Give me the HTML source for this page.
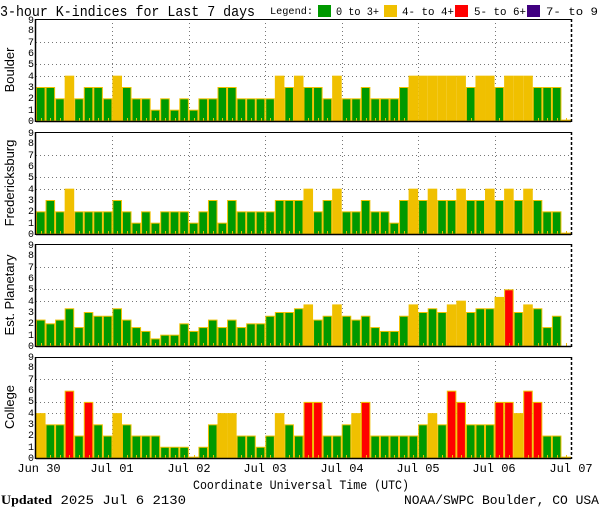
<!DOCTYPE html>
<html><head><meta charset="utf-8"><style>
html,body{margin:0;padding:0;background:#fff;}
svg{display:block;}
text{font-family:"Liberation Mono","DejaVu Sans Mono",monospace;fill:#000;}
.d{font-size:10px;text-anchor:end;}
.yl{font-size:13px;text-anchor:middle;font-family:"Liberation Sans",sans-serif;}
</style></head><body>
<svg id="s" width="600" height="510" viewBox="0 0 600 510" xmlns="http://www.w3.org/2000/svg">
<rect width="600" height="510" fill="#fff"/>
<text x="0" y="16" font-size="15" textLength="255" lengthAdjust="spacingAndGlyphs">3-hour K-indices for Last 7 days</text>
<text x="270" y="14" font-size="10" textLength="43" lengthAdjust="spacingAndGlyphs">Legend:</text>
<rect x="318" y="5" width="13" height="12" fill="#009900"/>
<text x="336" y="15" font-size="11" textLength="43" lengthAdjust="spacingAndGlyphs">0 to 3+</text>
<rect x="384" y="5" width="13" height="12" fill="#f0c000"/>
<text x="402" y="15" font-size="11" textLength="52" lengthAdjust="spacingAndGlyphs">4- to 4+</text>
<rect x="455" y="5" width="13" height="12" fill="#ff0000"/>
<text x="474" y="15" font-size="11" textLength="52" lengthAdjust="spacingAndGlyphs">5- to 6+</text>
<rect x="527" y="5" width="13" height="12" fill="#400080"/>
<text x="546" y="15" font-size="11" textLength="52" lengthAdjust="spacingAndGlyphs">7- to 9</text>

<g id="plots"></g>

<text class="yl" transform="translate(14,70) rotate(-90)">Boulder</text>
<text class="yl" transform="translate(14,183) rotate(-90)">Fredericksburg</text>
<text class="yl" transform="translate(14,295) rotate(-90)">Est. Planetary</text>
<text class="yl" transform="translate(14,407) rotate(-90)">College</text>

<g class="d">
<text x="34" y="124">0</text><text x="34" y="113">1</text><text x="34" y="101">2</text><text x="34" y="90">3</text><text x="34" y="79">4</text><text x="34" y="67">5</text><text x="34" y="56">6</text><text x="34" y="45">7</text><text x="34" y="33">8</text><text x="34" y="23">9</text>
<text x="34" y="237">0</text><text x="34" y="226">1</text><text x="34" y="214">2</text><text x="34" y="203">3</text><text x="34" y="192">4</text><text x="34" y="180">5</text><text x="34" y="169">6</text><text x="34" y="158">7</text><text x="34" y="146">8</text><text x="34" y="136">9</text>
<text x="34" y="349">0</text><text x="34" y="338">1</text><text x="34" y="326">2</text><text x="34" y="315">3</text><text x="34" y="304">4</text><text x="34" y="292">5</text><text x="34" y="281">6</text><text x="34" y="270">7</text><text x="34" y="258">8</text><text x="34" y="248">9</text>
<text x="34" y="461">0</text><text x="34" y="450">1</text><text x="34" y="438">2</text><text x="34" y="427">3</text><text x="34" y="416">4</text><text x="34" y="404">5</text><text x="34" y="393">6</text><text x="34" y="382">7</text><text x="34" y="370">8</text><text x="34" y="360">9</text>
</g>

<g font-size="12" text-anchor="middle">
<text x="39" y="472">Jun 30</text>
<text x="112" y="472">Jul 01</text>
<text x="189" y="472">Jul 02</text>
<text x="265" y="472">Jul 03</text>
<text x="342" y="472">Jul 04</text>
<text x="418" y="472">Jul 05</text>
<text x="494" y="472">Jul 06</text>
<text x="571" y="472">Jul 07</text>
</g>
<text x="193" y="489" font-size="13" textLength="216" lengthAdjust="spacingAndGlyphs">Coordinate Universal Time (UTC)</text>
<text x="1" y="504" font-size="13" textLength="185" lengthAdjust="spacingAndGlyphs"><tspan font-weight="bold" font-family="Liberation Serif,serif">Updated</tspan> 2025 Jul  6 2130</text>
<text x="404" y="504" font-size="13" textLength="195" lengthAdjust="spacingAndGlyphs">NOAA/SWPC Boulder, CO USA</text>
</svg>
<script>
var P=[
 {t:19,b:121,v:[3,3,2,4,2,3,3,2, 4,3,2,2,1,2,1,2, 1,2,2,3,3,2,2,2, 2,4,3,4,3,3,2,4, 2,2,3,2,2,2,3,4, 4,4,4,4,4,3,4,4, 3,4,4,4,3,3,3,0.12]},
 {t:132,b:234,v:[2,3,2,4,2,2,2,2, 3,2,1,2,1,2,2,2, 1,2,3,1,3,2,2,2, 2,3,3,3,4,2,3,4, 2,2,3,2,2,1,3,4, 3,4,3,3,4,3,3,4, 3,4,3,4,3,2,2,0.12]},
 {t:244,b:346,v:[2.33,2,2.33,3.33,1.67,3,2.67,2.67, 3.33,2.33,1.67,1.33,0.67,1,1,2, 1.33,1.67,2.33,1.67,2.33,1.67,2,2, 2.67,3,3,3.33,3.67,2.33,2.67,3.67, 2.67,2.33,2.67,1.67,1.33,1.33,2.67,3.67, 3,3.33,3,3.67,4,3,3.33,3.33, 4.33,5,3,3.67,3.33,1.67,2.67,0]},
 {t:357,b:458,v:[4,3,3,6,2,5,3,2, 4,3,2,2,2,1,1,1, 0.12,1,3,4,4,2,2,1, 2,4,3,2,5,5,2,2, 3,4,5,2,2,2,2,2, 3,4,3,6,5,3,3,3, 5,5,4,6,5,2,2,0.12]}
];
var ns="http://www.w3.org/2000/svg",g=document.getElementById('plots');
function el(n,a){var e=document.createElementNS(ns,n);for(var k in a)e.setAttribute(k,a[k]);g.appendChild(e);return e;}
var L=36,R=571,W=(R-L)/56;
P.forEach(function(p){
 var u=(p.b-p.t)/9;
 // grid
 [4,5,7].forEach(function(k){var y=Math.round(p.b-k*u)+0.5;el('line',{x1:L,x2:R,y1:y,y2:y,stroke:'#777','stroke-dasharray':'1,3','stroke-width':1});});
 for(var d=1;d<7;d++){var x=Math.round(L+d*8*W)+0.5;el('line',{x1:x,x2:x,y1:p.t,y2:p.b,stroke:'#777','stroke-dasharray':'1,3','stroke-width':1});}
 p.v.forEach(function(v,i){
  var x0=L+i*W,x1=L+(i+1)*W;
  if(v>0){
   var h=v*u,c=v>=6.67?'#400080':v>=4.67?'#ff0000':v>=3.67?'#f0c000':'#009900';
   var y=p.b-h;
   el('rect',{x:x0+0.5,y:y+0.5,width:W-1,height:Math.max(h-0.5,0.5),fill:c,stroke:'#f0c000','stroke-width':1});
  }
  el('rect',{x:Math.round((x0+x1)/2),y:p.b-3,width:1,height:3,fill:'#f0c000'});
 });
 el('line',{x1:L,x2:R,y1:p.t+0.5,y2:p.t+0.5,stroke:'#000','stroke-width':1});
 el('line',{x1:L,x2:R,y1:p.b+0.5,y2:p.b+0.5,stroke:'#000','stroke-width':1.5});
 el('line',{x1:L-0.5,x2:L-0.5,y1:p.t,y2:p.b+1,stroke:'#000','stroke-width':1.5});
 el('line',{x1:R+0.5,x2:R+0.5,y1:p.t,y2:p.b+1,stroke:'#000','stroke-width':1.5,'stroke-dasharray':'3,2'});
});
</script>
</body></html>
